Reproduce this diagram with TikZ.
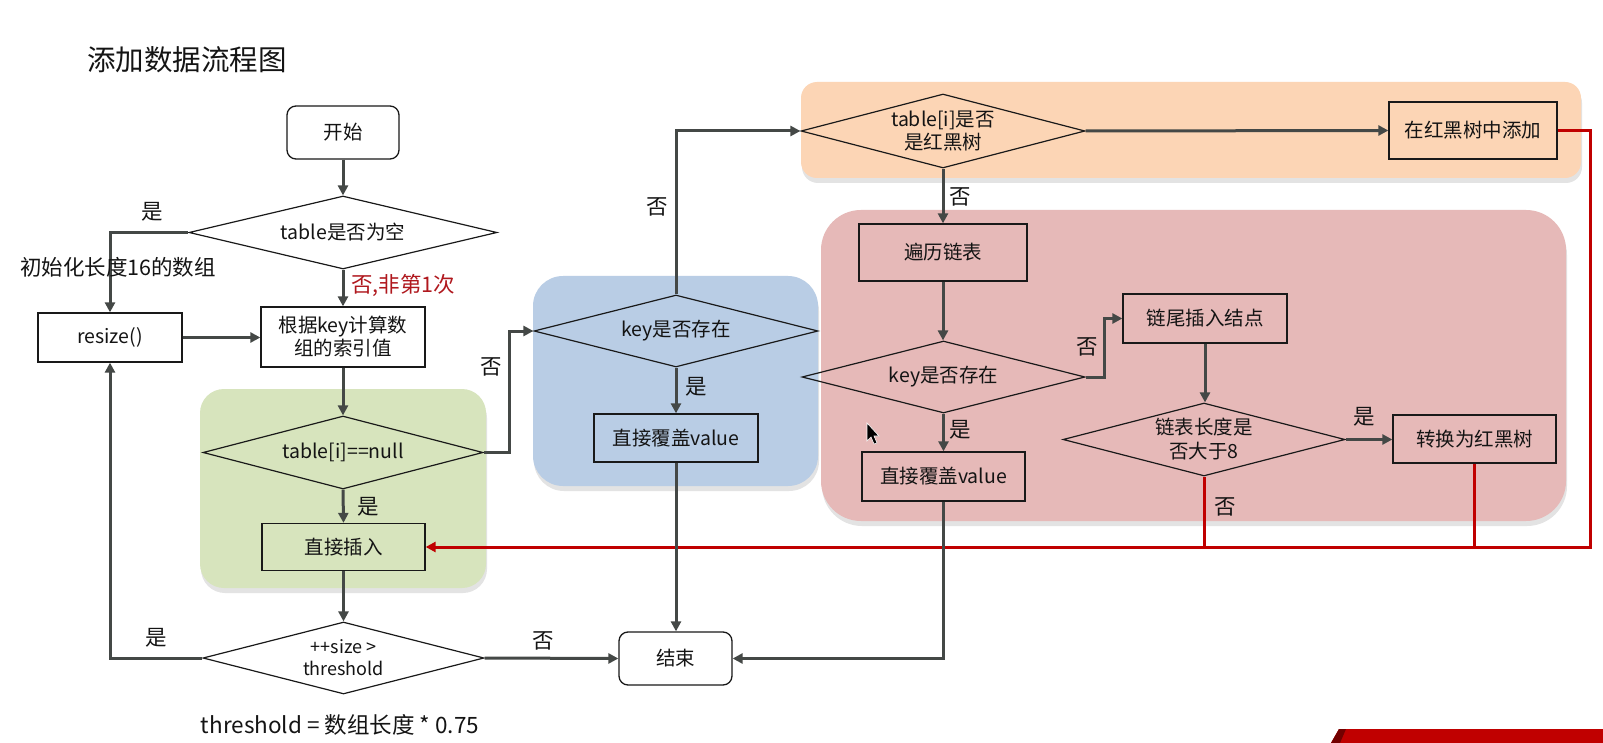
\documentclass[tikz,border=0pt]{standalone}
\usepackage{fontspec}
\setmainfont{Noto Sans CJK SC}
\usetikzlibrary{arrows.meta,shapes.geometric,shadows}
\definecolor{linec}{RGB}{68,72,70}
\definecolor{redc}{RGB}{192,0,0}
\definecolor{redt}{RGB}{176,24,30}
\definecolor{boxc}{RGB}{25,25,25}
\definecolor{txt}{RGB}{20,20,20}
\definecolor{gbg}{RGB}{215,228,189}
\definecolor{bbg}{RGB}{185,205,229}
\definecolor{obg}{RGB}{252,213,181}
\definecolor{pbg}{RGB}{230,185,184}
\begin{document}
\begin{tikzpicture}[x=1pt,y=-1pt,
  box/.style={draw=boxc,line width=1.3pt,inner sep=0pt,align=center,font=\fontsize{19.5}{23}\selectfont,text=txt},
  term/.style={box,rounded corners=9pt},
  dia/.style={diamond,draw=boxc,line width=1.2pt,inner sep=-4pt,aspect=3.9,align=center,font=\fontsize{19.5}{22.5}\selectfont,text=txt},
  conn/.style={draw=linec,line width=3pt,-{Triangle[length=10pt,width=10pt]}},
  rconn/.style={draw=redc,line width=3pt,-{Triangle[length=10pt,width=10pt]}},
  rline/.style={draw=redc,line width=3pt},
  lab/.style={inner sep=0pt,font=\fontsize{21.5}{24}\selectfont,text=txt},
  bgshadow/.style={drop shadow={shadow xshift=1pt,shadow yshift=-5pt,opacity=0.22}},
]
\useasboundingbox (0,0) rectangle (1603,743);
\fill[white] (0,0) rectangle (1603,743);

% background regions
\fill[gbg,rounded corners=24pt,bgshadow] (200,389) rectangle (486,588);
\fill[bbg,rounded corners=30pt,bgshadow] (533,276) rectangle (818,486);
\fill[obg,rounded corners=16pt,bgshadow] (801,82) rectangle (1581,178);
\fill[pbg,rounded corners=40pt,bgshadow] (821,210) rectangle (1566,521);

% title
\node[inner sep=0pt,font=\fontsize{28.5}{32}\selectfont,text=txt] (title) at (187,60) {添加数据流程图};

% nodes
\node[term,minimum width=112pt,minimum height=53pt] (start) at (343,132.5) {开始};
\node[dia,minimum width=308pt,minimum height=73pt] (d1) at (343,232.5) {table是否为空};
\node[box,minimum width=144pt,minimum height=49pt] (resize) at (110,337.5) {resize()};
\node[box,minimum width=164pt,minimum height=60pt] (hash) at (343,337) {根据key计算数\\组的索引值};
\node[dia,minimum width=280pt,minimum height=73pt] (d2) at (343,452.5) {table[i]==null};
\node[box,minimum width=163pt,minimum height=47pt] (insert) at (343.5,547) {直接插入};
\node[dia,minimum width=281pt,minimum height=72pt,font=\fontsize{18}{22}\selectfont] (d3) at (343.5,658) {++size >\\threshold};
\node[term,minimum width=113pt,minimum height=53pt] (end) at (675.5,658.5) {结束};

\node[dia,minimum width=284pt,minimum height=72pt] (bd) at (676,331) {key是否存在};
\node[box,minimum width=164pt,minimum height=48pt] (bcover) at (676,438) {直接覆盖value};

\node[dia,minimum width=284pt,minimum height=74pt] (od) at (943,131) {table[i]是否\\是红黑树};
\node[box,minimum width=168pt,minimum height=57pt] (rbadd) at (1473,130.5) {在红黑树中添加};

\node[box,minimum width=168pt,minimum height=57pt] (traverse) at (943,252.5) {遍历链表};
\node[dia,minimum width=283pt,minimum height=72pt] (pd) at (943.5,377) {key是否存在};
\node[box,minimum width=164pt,minimum height=49pt] (tail) at (1205,318.5) {链尾插入结点};
\node[dia,minimum width=282pt,minimum height=73pt,font=\fontsize{19.5}{24}\selectfont] (ld) at (1204,439.5) {链表长度是\\否大于8};
\node[box,minimum width=163pt,minimum height=48pt] (convert) at (1474.5,439) {转换为红黑树};
\node[box,minimum width=163pt,minimum height=49pt] (pcover) at (943.5,476.5) {直接覆盖value};

% red return path
\coordinate (rc) at (1590,547);
\draw[rline] (ld.south) -- (ld.south |- rc);
\draw[rline] (convert.south) -- (convert.south |- rc);
\draw[rconn] (rbadd.east) -| (rc) -- (insert.east);

% gray connectors
\draw[conn] (start.south) -- (d1.north);
\draw[conn] (d1.west) -| (resize.north);
\draw[conn] (d1.south) -- (hash.north);
\draw[conn] (resize.east) -- (resize.east -| hash.west);
\draw[conn] (hash.south) -- (d2.north);
\draw[conn] (d2.east) -- ++(26,0) |- (bd.west);
\draw[conn] (d2.south) -- (insert.north);
\draw[conn] (insert.south) -- (d3.north);
\draw[conn] (d3.west) -| (resize.south);
\draw[conn] (d3.east) -- (end.west);
\draw[conn] (bd.north) |- (od.west);
\draw[conn] (bd.south) -- (bcover.north);
\draw[conn] (bcover.south) -- (bcover.south |- end.north);
\draw[conn] (od.east) -- (rbadd.west);
\draw[conn] (od.south) -- (traverse.north);
\draw[conn] (traverse.south) -- (traverse.south |- pd.north);
\draw[conn] (pd.east) -- ++(19,0) |- (tail.west);
\draw[conn] (pd.south) -- (pd.south |- pcover.north);
\draw[conn] (pcover.south) |- (end.east);
\draw[conn] (tail.south) -- (tail.south |- ld.north);
\draw[conn] (ld.east) -- (ld.east -| convert.west);

% labels
\node[lab] (l1) at (152,212) {是};
\node[lab] (l2) at (118,267) {初始化长度16的数组};
\node[lab,text=redt] (l3) at (403,285) {否,非第1次};
\node[lab] (l4) at (491,367) {否};
\node[lab] (l5) at (368,507) {是};
\node[lab] (l6) at (156,638) {是};
\node[lab] (l7) at (543,641) {否};
\node[inner sep=0pt,font=\fontsize{22.5}{26}\selectfont,text=txt] (l8) at (340,725) {threshold = 数组长度 * 0.75};
\node[lab] (l9) at (657,207) {否};
\node[lab] (l10) at (696,387) {是};
\node[lab] (l11) at (960,197) {否};
\node[lab] (l12) at (1087,347) {否};
\node[lab] (l13) at (960,430) {是};
\node[lab] (l14) at (1364,417) {是};
\node[lab] (l15) at (1225,507) {否};

% mouse pointer
\fill[black,draw=white,line width=0.6pt] (867,423) -- (867,441) -- (871,437) -- (874,444) -- (877,443) -- (874,436) -- (879,436) -- cycle;

% bottom-right banner fragment
\fill[redc] (1331,743) -- (1339,729) -- (1603,729) -- (1603,743) -- cycle;
\fill[red!45!black] (1331,743) -- (1339,729) -- (1346,729) -- (1340,743) -- cycle;
\end{tikzpicture}
\end{document}
